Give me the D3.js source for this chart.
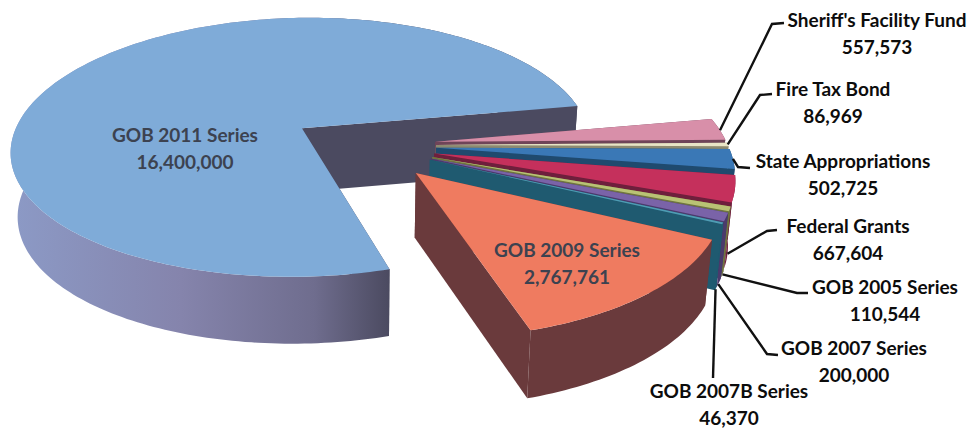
<!DOCTYPE html>
<html>
<head>
<meta charset="utf-8">
<script src="https://cdn.jsdelivr.net/npm/d3@7/dist/d3.min.js"></script>
<style>
  html, body { margin: 0; padding: 0; background: #fff; }
  text { font-family: Lato, "Open Sans", sans-serif; font-size: 19px; text-anchor: middle; }
</style>
</head>
<body>
<svg id="chart" width="972" height="430"></svg>
<script>
// Funding sources, in clockwise pie order
const categories = ["GOB 2011 Series", "Sheriff's Facility Fund", "Fire Tax Bond", "State Appropriations",
  "Federal Grants", "GOB 2005 Series", "GOB 2007 Series", "GOB 2007B Series", "GOB 2009 Series"];
const amounts = [16400000, 557573, 86969, 502725, 667604, 110544, 200000, 46370, 2767761];

// Slice styling
const topColors = ["#7fabd8", "#d88fa9", "#e9e5c6", "#3a78b6", "#c5305c", "#b9c274", "#7a63a8", "#4f9cb4", "#ef7b60"];
const wallColors = ["#4b4a60", "#6f4458", "#8d8a70", "#1f4a6e", "#6e1f3c", "#6f7440", "#4b3a6c", "#1f5a70", "#6a3a3c"];
const explodeBy = [0.25, 0.25, 0.25, 0.25, 0.25, 0.25, 0.25, 0.25, 0.27];

// Caption centres; leaders leave the slice's rim at height `drop` and bend at `elbow`
const labelLayout = [
  { x: 185, y: 142, inside: true },
  { x: 877, y: 27, drop: 0, elbow: [[772, 24], [784, 23]] },
  { x: 833, y: 96, drop: 0, elbow: [[760, 95], [772, 94]] },
  { x: 843, y: 168, drop: 0, elbow: [[738, 167], [750, 168]] },
  { x: 848, y: 233, drop: 1, elbow: [[767, 231], [777, 230]] },
  { x: 885, y: 294, drop: 1, elbow: [[797, 293], [808, 293]] },
  { x: 854, y: 355, drop: 1, elbow: [[767, 354], [778, 355]] },
  { x: 729, y: 398, drop: 1, elbow: [[713, 378]] },
  { x: 567, y: 257, inside: true }
];

// Projection of the tilted, extruded pie onto the page
const view = { cx: 363, cy: 145, a: 292, b: 131.7, nearX: 0.16, nearY: 0.15, nearZ: 0.05, depth: 64, taper: 0.02 };

function project(x, y, z) {
  return [
    view.cx + view.a * x / (1 - view.nearX * y) * (1 - view.taper * z),
    view.cy + view.b * y / (1 - view.nearY * y) + view.depth * z / (1 - view.nearZ * y)
  ];
}

const firstAngle = 163 * Math.PI / 180;
const pie = d3.pie().sort(null).startAngle(firstAngle).endAngle(firstAngle + 2 * Math.PI);
const slices = pie(amounts);

const svg = d3.select("#chart");
const line = d3.line();

// Main slice's rim gets a lit-to-shaded ramp
const ramp = svg.append("defs").append("linearGradient")
  .attr("id", "rimRamp").attr("gradientUnits", "userSpaceOnUse")
  .attr("x1", 10).attr("x2", 390).attr("y1", 0).attr("y2", 0);
ramp.selectAll("stop")
  .data([[0, "#8c9ac6"], [0.45, "#8584ac"], [0.8, "#6f6d8e"], [1, "#4b4a60"]])
  .join("stop")
  .attr("offset", d => d[0]).attr("stop-color", d => d[1]);

function centreOf(d) {
  const mid = (d.startAngle + d.endAngle) / 2;
  const e = explodeBy[d.index];
  return [e * Math.sin(mid), -e * Math.cos(mid)];
}

function arcPoints(d, z) {
  const [ox, oy] = centreOf(d);
  const n = Math.max(2, Math.ceil((d.endAngle - d.startAngle) / 0.02));
  return d3.range(n + 1).map(i => {
    const t = d.startAngle + (d.endAngle - d.startAngle) * i / n;
    return project(ox + Math.sin(t), oy - Math.cos(t), z);
  });
}

const groups = svg.selectAll("g.slice").data(slices).join("g").attr("class", "slice");

groups.each(function (d, i) {
  const g = d3.select(this);
  const [ox, oy] = centreOf(d);
  const topArc = arcPoints(d, 0);
  const lowArc = arcPoints(d, 1);
  const apexTop = project(ox, oy, 0);
  const apexLow = project(ox, oy, 1);
  const wall = wallColors[i];

  // Cut faces, then the rim, then the flat top
  [[topArc[0], lowArc[0]], [topArc[topArc.length - 1], lowArc[lowArc.length - 1]]].forEach(([a, b]) => {
    g.append("path").attr("d", line([apexTop, a, b, apexLow]) + "Z").attr("fill", wall);
  });
  g.append("path")
    .attr("d", line(topArc.concat(lowArc.slice().reverse())) + "Z")
    .attr("fill", i === 0 ? "url(#rimRamp)" : wall);
  g.append("path")
    .attr("d", line([apexTop].concat(topArc)) + "Z")
    .attr("fill", topColors[i]);
});

// Leader lines and captions
const fmt = d3.format(",");
const labels = svg.selectAll("g.label").data(labelLayout).join("g").attr("class", "label");

labels.filter(d => !d.inside).append("path")
  .attr("d", d => {
    const rim = arcPoints(slices[labelLayout.indexOf(d)], d.drop);
    return line([rim[Math.floor(rim.length / 2)]].concat(d.elbow));
  })
  .attr("fill", "none").attr("stroke", "#111").attr("stroke-width", 2.4);

labels.each(function (d, i) {
  const g = d3.select(this);
  const fill = d.inside ? "#3c4250" : "#0c0c0c";
  g.append("text").attr("x", d.x).attr("y", d.y).attr("fill", fill)
    .attr("font-weight", 700).text(categories[i]);
  g.append("text").attr("x", d.x).attr("y", d.y + 27).attr("fill", fill)
    .attr("font-weight", 700).text(fmt(amounts[i]));
});
</script>
</body>
</html>
